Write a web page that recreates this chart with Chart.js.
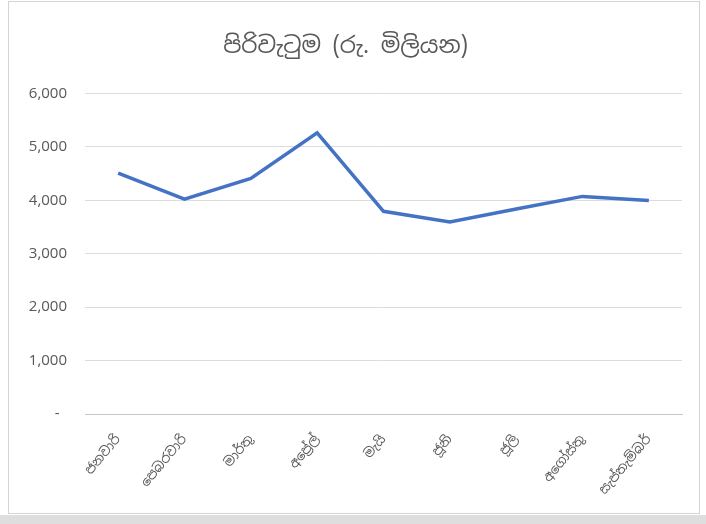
<!DOCTYPE html>
<html>
<head>
<meta charset="utf-8">
<script src="https://cdn.jsdelivr.net/npm/chart.js@4.4.0/dist/chart.umd.min.js"></script>
<style>
  html, body { margin: 0; padding: 0; background: #ffffff; }
  #wrap {
    position: absolute; left: 8px; top: 1px;
    width: 690px; height: 511px;
    border: 1px solid #d4d4d4;
    background: #ffffff;
  }
  #band {
    position: absolute; left: 0; top: 515px;
    width: 706px; height: 9px;
    background: #dedede;
  }
</style>
</head>
<body>
<div id="wrap"><canvas id="chart" width="690" height="511"></canvas></div>
<div id="band"></div>
<script>
// දත්ත //
const months = ['ජනවාරි', 'පෙබරවාරි', 'මාර්තු', 'අප්‍රේල්', 'මැයි', 'ජූනි', 'ජූලි', 'අගෝස්තු', 'සැප්තැම්බර්'];
const turnover = [4510, 4025, 4410, 5265, 3795, 3595, 3840, 4075, 4000];
const yTicks = [0, 1000, 2000, 3000, 4000, 5000, 6000];
const chartTitle = 'පිරිවැටුම (රු. මිලියන)';

const fontFamily = '"Noto Sans Sinhala", "Noto Sans", "Liberation Sans", sans-serif';
const textColor = '#595959';

const ctx = document.querySelector('#chart').getContext('2d');

new Chart(ctx, {
    type: 'line',
    data: {
        labels: months,
        datasets: [
            {
                label: chartTitle,
                data: turnover,
                borderColor: '#4472C4',
                borderWidth: 3.5,
                pointRadius: 0,
                tension: 0,
                fill: false
            }
        ]
    },
    options: {
        responsive: false,
        animation: false,
        layout: { padding: { left: 0, right: 17, top: 0, bottom: 0 } },
        plugins: {
            legend: { display: false },
            tooltip: { enabled: false },
            title: {
                display: true,
                text: chartTitle,
                color: textColor,
                font: { family: fontFamily, size: 23, weight: 'normal' },
                padding: { top: 31, bottom: 33 }
            }
        },
        scales: {
            x: {
                offset: true,
                grid: { display: false, drawTicks: false },
                border: { display: true, color: '#c8c8c8', width: 1 },
                ticks: {
                    color: textColor,
                    font: { family: fontFamily, size: 13 },
                    minRotation: 50,
                    maxRotation: 50,
                    padding: 18,
                    autoSkip: false
                },
                afterFit: (scale) => { scale.height = 99; }
            },
            y: {
                min: 0,
                max: 6000,
                afterBuildTicks: (scale) => { scale.ticks = yTicks.map(v => ({ value: v })); },
                grid: { color: '#dcdcdc', lineWidth: 1, drawTicks: false },
                border: { display: false },
                ticks: {
                    color: textColor,
                    font: { family: fontFamily, size: 15 },
                    padding: 18,
                    callback: (v) => v === 0 ? '- ' : v.toLocaleString('en-US')
                },
                afterFit: (scale) => { scale.width = 76; }
            }
        }
    }
});
</script>
</body>
</html>
